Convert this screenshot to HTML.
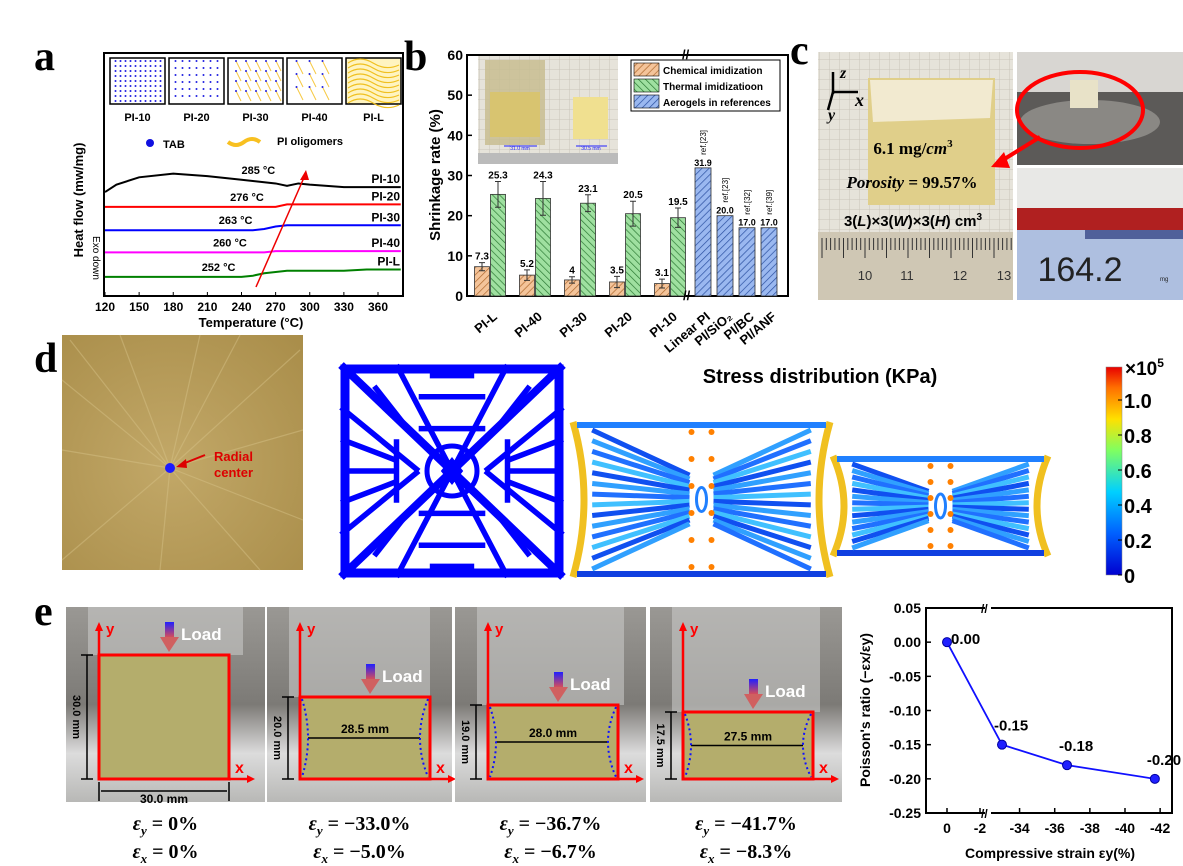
<!DOCTYPE html>
<html><head><meta charset="utf-8"><style>
html,body{margin:0;padding:0;background:#fff;}
svg{display:block;font-family:"Liberation Sans",sans-serif;}
.b{font-weight:bold}
</style></head><body>
<svg id="fig" width="1183" height="866" viewBox="0 0 1183 866" xmlns="http://www.w3.org/2000/svg">
<defs>
<pattern id="hOr" width="5" height="5" patternUnits="userSpaceOnUse" patternTransform="rotate(45)"><rect width="5" height="5" fill="#f4c49a"/><line x1="0" y1="0" x2="0" y2="5" stroke="#b06a30" stroke-width="1.4"/></pattern>
<pattern id="hGr" width="5" height="5" patternUnits="userSpaceOnUse" patternTransform="rotate(-45)"><rect width="5" height="5" fill="#9fe0a0"/><line x1="0" y1="0" x2="0" y2="5" stroke="#2d7a34" stroke-width="1.4"/></pattern>
<pattern id="hBl" width="5" height="5" patternUnits="userSpaceOnUse" patternTransform="rotate(45)"><rect width="5" height="5" fill="#9ab8f0"/><line x1="0" y1="0" x2="0" y2="5" stroke="#2a4fa0" stroke-width="1.4"/></pattern>
<pattern id="grid" width="10" height="10" patternUnits="userSpaceOnUse"><rect width="10" height="10" fill="#e6e3da"/><path d="M10 0V10H0" fill="none" stroke="#c9c5bb" stroke-width="1"/></pattern>
<linearGradient id="jet" x1="0" y1="1" x2="0" y2="0"><stop offset="0" stop-color="#0000d0"/><stop offset="0.2" stop-color="#0060ff"/><stop offset="0.4" stop-color="#00d0ff"/><stop offset="0.6" stop-color="#80ff60"/><stop offset="0.75" stop-color="#ffe000"/><stop offset="0.9" stop-color="#ff7000"/><stop offset="1" stop-color="#e80000"/></linearGradient>
<linearGradient id="loadG" x1="0" y1="0" x2="0" y2="1"><stop offset="0" stop-color="#2020ff"/><stop offset="1" stop-color="#e05050"/></linearGradient>
<linearGradient id="ebg" x1="0" y1="0" x2="0" y2="1"><stop offset="0" stop-color="#9a9894"/><stop offset="0.5" stop-color="#7c7a76"/><stop offset="0.75" stop-color="#dcdcdc"/><stop offset="1" stop-color="#b8b8b6"/></linearGradient>
<radialGradient id="dbg" cx="0.45" cy="0.55" r="0.8"><stop offset="0" stop-color="#c2a868"/><stop offset="1" stop-color="#a88c48"/></radialGradient>
</defs>

<!-- ===== Panel a ===== -->
<text x="34" y="70" font-family="Liberation Serif,serif" font-weight="bold" font-size="42">a</text>
<g id="panelA">
<rect x="104" y="53" width="299" height="243" fill="#fff" stroke="#000" stroke-width="2"/>
<g id="aInsets"></g>
<circle cx="150" cy="143" r="4" fill="#1010e0"/>
<text x="163" y="148" class="b" font-size="11">TAB</text>
<path d="M228 142 q8 6 16 0 t16 0" stroke="#f8c020" stroke-width="4" fill="none"/>
<text x="277" y="145" class="b" font-size="11">PI oligomers</text>
<g id="aCurves"></g>
<line x1="256" y1="287" x2="306" y2="173" stroke="#e00" stroke-width="1.5"/>
<polygon points="306,170 300,180 309,180" fill="#e00"/>
<g id="aTicks"></g>
<text x="251" y="327" text-anchor="middle" class="b" font-size="13">Temperature (°C)</text>
<text transform="translate(83,200) rotate(-90)" text-anchor="middle" class="b" font-size="13">Heat flow (mw/mg)</text>
<text transform="translate(93,258) rotate(90)" text-anchor="middle" font-size="10">Exo down</text>
</g>

<!-- ===== Panel b ===== -->
<text x="404" y="70" font-family="Liberation Serif,serif" font-weight="bold" font-size="42">b</text>
<g id="panelB">
<rect x="467" y="55" width="321" height="241" fill="#fff" stroke="#000" stroke-width="2"/>
<g>
<rect x="478" y="56" width="140" height="108" fill="url(#grid)"/>
<rect x="485" y="60" width="60" height="85" fill="#c8bd90" opacity="0.85"/>
<rect x="490" y="92" width="50" height="45" fill="#d8c470"/>
<rect x="573" y="97" width="35" height="42" fill="#f0e090"/>
<line x1="504" y1="146" x2="537" y2="146" stroke="#22f" stroke-width="1"/>
<text x="520" y="150" font-size="5" fill="#22f" text-anchor="middle">31.0 mm</text>
<line x1="576" y1="146" x2="607" y2="146" stroke="#22f" stroke-width="1"/>
<text x="591" y="150" font-size="5" fill="#22f" text-anchor="middle">30.5 mm</text>
<rect x="478" y="153" width="140" height="11" fill="#bbb"/>
</g>
<g>
<rect x="631" y="60" width="149" height="51" fill="#fff" stroke="#000" stroke-width="1"/>
<rect x="634" y="63" width="25" height="13" fill="url(#hOr)" stroke="#000" stroke-width="0.6"/>
<text x="663" y="74" class="b" font-size="10">Chemical imidization</text>
<rect x="634" y="79" width="25" height="13" fill="url(#hGr)" stroke="#000" stroke-width="0.6"/>
<text x="663" y="90" class="b" font-size="10">Thermal imidizatioon</text>
<rect x="634" y="95" width="25" height="13" fill="url(#hBl)" stroke="#000" stroke-width="0.6"/>
<text x="663" y="106" class="b" font-size="10">Aerogels in references</text>
</g>
<g id="bBars"></g>
<g id="bTicks"></g>
<text x="682" y="59" font-size="13" class="b">//</text>
<text x="683" y="300" font-size="13" class="b">//</text>
<text transform="translate(440,175) rotate(-90)" text-anchor="middle" class="b" font-size="15">Shrinkage rate (%)</text>
</g>

<!-- ===== Panel c ===== -->
<text x="790" y="64" font-family="Liberation Serif,serif" font-weight="bold" font-size="42">c</text>
<g>
<rect x="818" y="52" width="195" height="248" fill="url(#grid)"/>
<rect x="868" y="78" width="127" height="127" fill="#e0cf8a"/>
<polygon points="870,80 993,80 990,118 873,122" fill="#f2ead0"/>
<rect x="818" y="232" width="195" height="68" fill="#cfc7b4"/>
<g stroke="#333" stroke-width="1" id="ruler"></g>
<text x="865" y="280" font-size="13" fill="#333" text-anchor="middle">10</text>
<text x="907" y="280" font-size="13" fill="#333" text-anchor="middle">11</text>
<text x="960" y="280" font-size="13" fill="#333" text-anchor="middle">12</text>
<text x="1004" y="280" font-size="13" fill="#333" text-anchor="middle">13</text>
<text x="913" y="154" font-family="Liberation Serif,serif" font-weight="bold" font-size="17" text-anchor="middle">6.1 mg/<tspan font-style="italic">cm</tspan><tspan dy="-7" font-size="11">3</tspan></text>
<text x="912" y="188" font-family="Liberation Serif,serif" font-weight="bold" font-size="17" text-anchor="middle"><tspan font-style="italic">Porosity</tspan> = 99.57%</text>
<text x="913" y="226" class="b" font-size="15" text-anchor="middle">3(<tspan font-style="italic">L</tspan>)×3(<tspan font-style="italic">W</tspan>)×3(<tspan font-style="italic">H</tspan>) cm<tspan dy="-6" font-size="10">3</tspan></text>
<g stroke="#000" stroke-width="2.5">
<line x1="833" y1="94" x2="833" y2="72"/><line x1="833" y1="92" x2="858" y2="92"/><line x1="833" y1="92" x2="828" y2="110"/>
</g>
<text x="840" y="78" font-family="Liberation Serif,serif" font-style="italic" font-weight="bold" font-size="16">z</text>
<text x="855" y="106" font-family="Liberation Serif,serif" font-style="italic" font-weight="bold" font-size="18">x</text>
<text x="828" y="120" font-family="Liberation Serif,serif" font-style="italic" font-weight="bold" font-size="16">y</text>

<rect x="1017" y="52" width="166" height="113" fill="#5c5a58"/>
<rect x="1017" y="52" width="166" height="40" fill="#d8d6d2"/>
<ellipse cx="1090" cy="122" rx="70" ry="22" fill="#8a8884"/>
<rect x="1070" y="80" width="28" height="28" fill="#e8e2c8"/>
<ellipse cx="1080" cy="110" rx="63" ry="38" fill="none" stroke="#f00" stroke-width="4"/>
<line x1="1040" y1="137" x2="998" y2="163" stroke="#f00" stroke-width="4"/>
<polygon points="991,167 1004,152 1010,168" fill="#f00"/>
<rect x="1017" y="168" width="166" height="132" fill="#e8e8e6"/>
<rect x="1017" y="208" width="166" height="22" fill="#b02020"/>
<rect x="1017" y="230" width="166" height="70" fill="#aebfe0"/>
<rect x="1085" y="230" width="98" height="9" fill="#50609a"/>
<text x="1080" y="281" font-size="34" fill="#222" text-anchor="middle">164.2</text>
<text x="1160" y="281" font-size="6" fill="#222">mg</text>
</g>

<!-- ===== Panel d ===== -->
<text x="34" y="372" font-family="Liberation Serif,serif" font-weight="bold" font-size="42">d</text>
<g>
<rect x="62" y="335" width="241" height="235" fill="url(#dbg)"/>
<g id="radial" stroke="#d8c48a" stroke-width="1.2" opacity="0.45"></g>
<circle cx="170" cy="468" r="5" fill="#1a1aff"/>
<line x1="205" y1="455" x2="180" y2="465" stroke="#d00" stroke-width="2"/>
<polygon points="176,467 186,459 187,468" fill="#d00"/>
<text x="214" y="461" fill="#d00" class="b" font-size="13">Radial</text>
<text x="214" y="477" fill="#d00" class="b" font-size="13">center</text>

<g id="lattice"></g>
<g id="stress1"></g>
<g id="stress2"></g>
<text x="820" y="383" class="b" font-size="20" text-anchor="middle">Stress distribution (KPa)</text>
<rect x="1106" y="367" width="16" height="208" fill="url(#jet)" stroke="#888" stroke-width="0.5"/>
<g id="cbTicks"></g>
<text x="1125" y="375" class="b" font-size="19">×10<tspan dy="-8" font-size="12">5</tspan></text>
</g>

<!-- ===== Panel e ===== -->
<text x="34" y="625" font-family="Liberation Serif,serif" font-weight="bold" font-size="42">e</text>
<g id="ePhotos"></g>
<g id="eChart"></g>
</svg>

<script>
const NS="http://www.w3.org/2000/svg";
function mk(tag,attrs,parent,txt){const e=document.createElementNS(NS,tag);for(const k in attrs)e.setAttribute(k,attrs[k]);if(txt!==undefined)e.textContent=txt;parent.appendChild(e);return e;}
const G=id=>document.getElementById(id);

/* ---- Panel a data ---- */
const aTemps=[120,130,150,180,210,240,250,260,270,280,290,300,330,350,380];
const aPI10=[7.8,8.4,9.0,9.3,9.1,8.8,8.7,8.6,8.5,8.3,8.5,8.4,8.2,8.2,8.2];
const aPI20=[6.6,6.6,6.6,6.6,6.6,6.6,6.6,6.6,6.6,6.8,6.8,6.8,6.8,6.8,6.8];
const aPI30=[4.7,4.7,4.7,4.7,4.7,4.7,4.7,4.8,5.0,5.1,5.1,5.1,5.1,5.1,5.1];
const aPI40=[2.9,2.9,2.9,2.9,2.9,2.9,2.9,2.9,3.0,3.0,3.0,3.0,3.0,3.0,3.0];
const aPIL=[0.9,0.9,0.9,0.9,0.9,0.9,1.0,1.2,1.3,1.4,1.4,1.4,1.4,1.5,1.5];
const aNames=["PI-10","PI-20","PI-30","PI-40","PI-L"];
const aSeries=[aPI10,aPI20,aPI30,aPI40,aPIL];
const aColors=["#000","#f00","#00f","#f0f","#008000"];
const aTg=["285 °C","276 °C","263 °C","260 °C","252 °C"];
const aXTicks=[120,150,180,210,240,270,300,330,360];
const ax=t=>105+(t-120)*(273/240);
const ay=v=>288-v*12.3;
(function(){
 const g=G("aCurves");
 aSeries.forEach((s,i)=>{
  const p=mk("polyline",{points:s.map((v,j)=>ax(aTemps[j])+","+ay(v)).join(" "),fill:"none",stroke:aColors[i],"stroke-width":2},g);
  
  
  const l=mk("text",{x:400,y:ay(s[s.length-1])-4,"text-anchor":"end","font-size":12,"font-weight":"bold"},g,aNames[i]);
  
  
  const t=mk("text",{x:ax([240,230,220,215,205][i]),y:ay(s[5])-6,"text-anchor":"start","font-size":11,"font-weight":"bold"},g,aTg[i]);
  
  
 });
 const tk=G("aTicks");
 aXTicks.forEach(v=>{
  mk("line",{x1:ax(v),x2:ax(v),y1:296,y2:292,stroke:"#000"},tk);
  const t=mk("text",{x:ax(v),y:311,"text-anchor":"middle","font-size":12,"font-weight":"bold"},tk,String(v));
  
  
 });
 const ins=G("aInsets");
 const insX=[110,169,228,287,346];
 const spacing=[5,7,10,13,0];
 aNames.forEach((n,i)=>{
  const x=insX[i],y=58,w=55,h=46;
  const r=mk("rect",{x:x,y:y,width:w,height:h,fill:i==4?"#fff4c0":"#fff",stroke:"#000","stroke-width":1.5},ins);
  
  
  if(i<4){const sp=spacing[i];
   for(let yy=y+3;yy<y+h-sp/2;yy+=sp)for(let xx=x+3+((yy-y)/sp%2?sp/2:0);xx<x+w-sp/2;xx+=sp){
    if(i>=2)mk("line",{x1:xx,y1:yy,x2:xx+sp/2,y2:yy+sp,stroke:"#f6c840","stroke-width":1},ins);
    mk("circle",{cx:xx,cy:yy,r:1,fill:"#2020e0"},ins);}
  } else {for(let k=0;k<9;k++)mk("path",{d:`M${x+2} ${y+5+k*5} q12 -8 25 0 t26 2`,stroke:"#f0c020",fill:"none","stroke-width":1.2},ins);}
  const lt=mk("text",{x:x+w/2,y:121,"text-anchor":"middle","font-size":11,"font-weight":"bold"},ins,n);
  
  
 });
})();

/* ---- Panel b data ---- */
const bCats=["PI-L","PI-40","PI-30","PI-20","PI-10"];
const bChem=[7.3,5.2,4,3.5,3.1];
const bChemErr=[1.0,1.3,0.8,1.4,1.1];
const bTherm=[25.3,24.3,23.1,20.5,19.5];
const bThermErr=[3.2,4.2,2.1,3.1,2.4];
const bRefCats=["Linear PI","PI/SiO₂","PI/BC","PI/ANF"];
const bRefVals=[31.9,20.0,17.0,17.0];
const bRefTags=["ref.[23]","ref.[23]","ref.[32]","ref.[39]"];
const bYTicks=[0,10,20,30,40,50,60];
const by=v=>296-v*(241/60);
(function(){
 const g=G("bBars"),w=15;
 bCats.forEach((c,i)=>{
  const cx=490+i*45;
  [[bChem,bChemErr,"url(#hOr)",cx-8,"chem"],[bTherm,bThermErr,"url(#hGr)",cx+8,"therm"]].forEach(([vals,errs,fill,x,key])=>{
   const v=vals[i];
   const r=mk("rect",{x:x-w/2,y:by(v),width:w,height:296-by(v),fill:fill,stroke:"#333","stroke-width":0.8},g);
   
   
   const e=errs[i];
   mk("path",{d:`M${x} ${by(v+e)}V${by(v-e)}M${x-3} ${by(v+e)}H${x+3}M${x-3} ${by(v-e)}H${x+3}`,stroke:"#333","stroke-width":1,fill:"none"},g);
   const t=mk("text",{x:x,y:by(v+e)-3,"text-anchor":"middle","font-size":10,"font-weight":"bold"},g,String(v));
   
   
  });
  const tl=mk("text",{transform:`translate(${cx+8},318) rotate(-40)`,"text-anchor":"end","font-size":13,"font-weight":"bold"},g,c);
  
  
 });
 bRefCats.forEach((c,i)=>{
  const x=703+i*22,v=bRefVals[i];
  const r=mk("rect",{x:x-8,y:by(v),width:16,height:296-by(v),fill:"url(#hBl)",stroke:"#333","stroke-width":0.8},g);
  
  
  const t=mk("text",{x:x,y:by(v)-2,"text-anchor":"middle","font-size":9,"font-weight":"bold"},g,v.toFixed(1));
  
  
  const rt=mk("text",{transform:`translate(${x+3},${by(v)-13}) rotate(-90)`,"font-size":8},g,bRefTags[i]);
  
  
  const tl=mk("text",{transform:`translate(${x+8},318) rotate(-40)`,"text-anchor":"end","font-size":13,"font-weight":"bold"},g,c);
  
  
 });
 const tk=G("bTicks");
 bYTicks.forEach(v=>{
  mk("line",{x1:467,x2:472,y1:by(v),y2:by(v),stroke:"#000","stroke-width":1.5},tk);
  const t=mk("text",{x:463,y:by(v)+5,"text-anchor":"end","font-size":14,"font-weight":"bold"},tk,String(v));
  
  
 });
})();

(function(){
 const r=G("ruler");
 for(let x=822;x<1012;x+=4.3)mk("line",{x1:x,y1:238,x2:x,y2:(Math.round((x-822)/4.3)%5==0)?258:250},r);
 const rd=G("radial");
 [[70,340],[120,335],[200,335],[300,350],[303,430],[303,520],[260,570],[160,570],[62,560],[62,450],[62,380],[240,335]].forEach(([x,y])=>mk("line",{x1:170,y1:468,x2:x,y2:y},rd));
})();

(function(){
 const g=G("lattice"),x0=341,y0=365,W=222,H=212,cx=x0+W/2,cy=y0+H/2;
 mk("rect",{x:x0+4,y:y0+4,width:W-8,height:H-8,fill:"#fff",stroke:"#0000ff","stroke-width":9},g);
 const L=(a,b,c,d,w)=>mk("line",{x1:a,y1:b,x2:c,y2:d,stroke:"#0000ff","stroke-width":w||6},g);
 const seg=[[0,0,1,1],[1,0,0,1],[0.25,0,0.5,0.5],[0.75,0,0.5,0.5],[0.25,1,0.5,0.5],[0.75,1,0.5,0.5],
 [0,0.2,0.35,0.5],[1,0.2,0.65,0.5],[0,0.8,0.35,0.5],[1,0.8,0.65,0.5],[0,0.5,0.25,0.5],[1,0.5,0.75,0.5],
 [0,0.35,0.25,0.45],[1,0.35,0.75,0.45],[0,0.65,0.25,0.55],[1,0.65,0.75,0.55],
 [0.4,0.05,0.6,0.05],[0.4,0.95,0.6,0.95],[0.35,0.15,0.65,0.15],[0.35,0.85,0.65,0.85],[0.35,0.3,0.65,0.3],[0.35,0.7,0.65,0.7],
 [0.15,0.1,0.3,0.3],[0.85,0.1,0.7,0.3],[0.15,0.9,0.3,0.7],[0.85,0.9,0.7,0.7],[0.25,0.35,0.25,0.65],[0.75,0.35,0.75,0.65]];
 seg.forEach((s,i)=>L(x0+s[0]*W,y0+s[1]*H,x0+s[2]*W,y0+s[3]*H,i<2?8:5.5));
 mk("polygon",{points:`${cx},${cy-10} ${cx+8},${cy} ${cx},${cy+10} ${cx-8},${cy}`,fill:"none",stroke:"#00f","stroke-width":5},g);
 mk("circle",{cx:cx,cy:cy,r:25,fill:"none",stroke:"#00f","stroke-width":5},g);
})();
function stress(id,x0,y0,W,H,pinch){
 const g=G(id);
 const p=pinch;
 mk("path",{d:`M${x0} ${y0} H${x0+W} Q${x0+W-p} ${y0+H/2} ${x0+W} ${y0+H} H${x0} Q${x0+p} ${y0+H/2} ${x0} ${y0} Z`,fill:"#fff",stroke:"none"},g);
 mk("path",{d:`M${x0} ${y0} Q${x0+p} ${y0+H/2} ${x0} ${y0+H}`,fill:"none",stroke:"#f0c020","stroke-width":7},g);
 mk("path",{d:`M${x0+W} ${y0} Q${x0+W-p} ${y0+H/2} ${x0+W} ${y0+H}`,fill:"none",stroke:"#f0c020","stroke-width":7},g);
 mk("line",{x1:x0+4,y1:y0+3,x2:x0+W-4,y2:y0+3,stroke:"#2080ff","stroke-width":6},g);
 mk("line",{x1:x0+4,y1:y0+H-3,x2:x0+W-4,y2:y0+H-3,stroke:"#1040e0","stroke-width":6},g);
 const cx=x0+W/2,cy=y0+H/2;
 const cols=["#1050f0","#30a0ff","#2070ff","#40c0ff"];
 for(let k=0;k<14;k++){const yy=y0+8+k*(H-16)/13;
  mk("line",{x1:x0+p*0.6+6,y1:yy,x2:cx-12,y2:cy+(yy-cy)*0.35,stroke:cols[k%4],"stroke-width":5},g);
  mk("line",{x1:x0+W-p*0.6-6,y1:yy,x2:cx+12,y2:cy+(yy-cy)*0.35,stroke:cols[(k+1)%4],"stroke-width":5},g);}
 for(let k=0;k<6;k++){const yy=y0+10+k*(H-20)/5;
  mk("circle",{cx:cx-10,cy:yy,r:3,fill:"#ff8000"},g);mk("circle",{cx:cx+10,cy:yy,r:3,fill:"#ff8000"},g);}
 mk("ellipse",{cx:cx,cy:cy,rx:5,ry:12,fill:"#fff",stroke:"#2080ff","stroke-width":3},g);
}
stress("stress1",573,422,257,155,22);
stress("stress2",833,456,215,100,22);
(function(){
 const cbVals=[0,0.2,0.4,0.6,0.8,1.0];
 const g=G("cbTicks");
 cbVals.forEach(v=>{const y=575-v*175;
  mk("line",{x1:1118,x2:1122,y1:y,y2:y,stroke:"#000"},g);
  const t=mk("text",{x:1124,y:y+8,"font-size":20,"font-weight":"bold"},g,v===0?"0":v.toFixed(1));
  
  });
})();

/* ---- Panel e photos ---- */
const ePhotoX=[66,267,455,650];
const ePhotoW=[199,185,191,192];
const eHeights=["30.0 mm","20.0 mm","19.0 mm","17.5 mm"];
const eWidths=["30.0 mm","28.5 mm","28.0 mm","27.5 mm"];
const eEy=["0%","−33.0%","−36.7%","−41.7%"];
const eEx=["0%","−5.0%","−6.7%","−8.3%"];
const eTop=[655,697,705,712];
(function(){
 const g=G("ePhotos");
 ePhotoX.forEach((x,i)=>{
  const w=ePhotoW[i],y0=607,h=195;
  const bg=mk("rect",{x:x,y:y0,width:w,height:h,fill:"url(#ebg)"},g);
  
  
  mk("rect",{x:x+22,y:y0,width:w-44,height:eTop[i]-y0,fill:"#c8c8c6",opacity:0.6},g);
  const rx=x+33,rw=130,ry=eTop[i],rb=779;
  mk("rect",{x:rx,y:ry,width:rw,height:rb-ry,fill:"#b4ad6c"},g);
  mk("rect",{x:rx,y:ry,width:rw,height:rb-ry,fill:"none",stroke:"#f00","stroke-width":3},g);
  mk("line",{x1:rx,y1:rb,x2:rx,y2:y0+22,stroke:"#f00","stroke-width":2.5},g);
  mk("polygon",{points:`${rx-4},${y0+24} ${rx+4},${y0+24} ${rx},${y0+15}`,fill:"#f00"},g);
  mk("line",{x1:rx,y1:rb,x2:rx+rw+18,y2:rb,stroke:"#f00","stroke-width":2.5},g);
  mk("polygon",{points:`${rx+rw+18},${rb-4} ${rx+rw+18},${rb+4} ${rx+rw+26},${rb}`,fill:"#f00"},g);
  mk("text",{x:rx+7,y:y0+27,fill:"#f00","font-size":15,"font-weight":"bold"},g,"y");
  mk("text",{x:rx+rw+6,y:rb-6,fill:"#f00","font-size":16,"font-weight":"bold"},g,"x");
  const ax0=rx+70,ay1=ry-3;
  mk("rect",{x:ax0-4,y:ay1-30,width:9,height:16,fill:"url(#loadG)"},g);
  mk("polygon",{points:`${ax0-9},${ay1-15} ${ax0+10},${ay1-15} ${ax0},${ay1}`,fill:"#d06060"},g);
  const lt=mk("text",{x:ax0+12,y:ay1-12,fill:"#fff","font-size":17,"font-weight":"bold"},g,"Load");
  
  
  const hx=rx-12;
  mk("path",{d:`M${hx-6} ${ry}H${hx+6}M${hx-6} ${rb}H${hx+6}M${hx} ${ry}V${rb}`,stroke:"#000","stroke-width":1.5},g);
  const ht=mk("text",{transform:`translate(${hx-14},${(ry+rb)/2}) rotate(90)`,"text-anchor":"middle","font-size":11,"font-weight":"bold"},g,eHeights[i]);
  
  
  if(i===0){
   mk("path",{d:`M${rx} ${rb+3}V${rb+22}M${rx+rw} ${rb+3}V${rb+22}M${rx+2} ${rb+12}H${rx+rw-2}`,stroke:"#000","stroke-width":1.5},g);
   const wt=mk("text",{x:rx+rw/2,y:rb+24,"text-anchor":"middle","font-size":12,"font-weight":"bold"},g,eWidths[i]);
   
   
  } else {
   const my=(ry+rb)/2;
   mk("path",{d:`M${rx+8} ${my}H${rx+rw-10}`,stroke:"#000","stroke-width":1.5},g);
   mk("path",{d:`M${rx+2} ${ry+2} Q${rx+14} ${my} ${rx+2} ${rb-2}M${rx+rw-2} ${ry+2} Q${rx+rw-18} ${my} ${rx+rw-2} ${rb-2}`,stroke:"#1010ff","stroke-width":2,"stroke-dasharray":"2,3",fill:"none"},g);
   const wt=mk("text",{x:rx+rw/2,y:my-5,"text-anchor":"middle","font-size":12,"font-weight":"bold"},g,eWidths[i]);
   
   
  }
  const cx=x+w/2;
  const f1=mk("text",{x:cx,y:830,"text-anchor":"middle","font-family":"Liberation Serif,serif","font-weight":"bold","font-size":20},g);
  f1.innerHTML=`<tspan font-style="italic">ε</tspan><tspan font-style="italic" font-size="13" dy="5">y</tspan><tspan dy="-5"> = ${eEy[i]}</tspan>`;
  
  
  const f2=mk("text",{x:cx,y:858,"text-anchor":"middle","font-family":"Liberation Serif,serif","font-weight":"bold","font-size":20},g);
  f2.innerHTML=`<tspan font-style="italic">ε</tspan><tspan font-style="italic" font-size="13" dy="5">x</tspan><tspan dy="-5"> = ${eEx[i]}</tspan>`;
  
  
 });
})();

/* ---- Panel e chart ---- */
const pStrain=[0,-33.0,-36.7,-41.7];
const pRatio=[0.00,-0.15,-0.18,-0.20];
const pLabels=["0.00","-0.15","-0.18","-0.20"];
const pYTicks=[0.05,0.00,-0.05,-0.10,-0.15,-0.20,-0.25];
const pXTicks=[0,-2,-34,-36,-38,-40,-42];
function px(v){return v>-3? 947+(-v)*16.5 : 1002+(-v-33)*17.57;}
function py(v){return 608+(0.05-v)*(205/0.3);}
(function(){
 const g=G("eChart");
 const fr=mk("rect",{x:926,y:608,width:246,height:205,fill:"#fff",stroke:"#000","stroke-width":2},g);
 
 
 mk("rect",{x:985,y:600,width:6,height:16,fill:"#fff"},g);
 mk("rect",{x:985,y:805,width:6,height:16,fill:"#fff"},g);
 mk("text",{x:981,y:613,"font-size":12,"font-weight":"bold"},g,"//");
 mk("text",{x:981,y:818,"font-size":12,"font-weight":"bold"},g,"//");
 pYTicks.forEach(v=>{
  mk("line",{x1:926,x2:931,y1:py(v),y2:py(v),stroke:"#000","stroke-width":1.5},g);
  const t=mk("text",{x:921,y:py(v)+5,"text-anchor":"end","font-size":14,"font-weight":"bold"},g,v.toFixed(2));
  
  
 });
 pXTicks.forEach(v=>{
  mk("line",{x1:px(v),x2:px(v),y1:813,y2:808,stroke:"#000","stroke-width":1.5},g);
  const t=mk("text",{x:px(v),y:833,"text-anchor":"middle","font-size":14,"font-weight":"bold"},g,String(v));
  
  
 });
 const ln=mk("polyline",{points:pStrain.map((s,i)=>px(s)+","+py(pRatio[i])).join(" "),fill:"none",stroke:"#1010ff","stroke-width":1.8},g);
 
 
 pStrain.forEach((s,i)=>{
  const c=mk("circle",{cx:px(s),cy:py(pRatio[i]),r:4.5,fill:"#2020ff",stroke:"#0000a0","stroke-width":1},g);
  
  
  const dx=i===0?4:-8, dy=i===0?2:-14;
  const t=mk("text",{x:px(s)+dx,y:py(pRatio[i])+dy,"font-size":15,"font-weight":"bold"},g,pLabels[i]);
  
  
 });
 const xt=mk("text",{x:1050,y:858,"text-anchor":"middle","font-size":14,"font-weight":"bold"},g,"Compressive strain εy(%)");
 
 
 const yt=mk("text",{transform:"translate(870,710) rotate(-90)","text-anchor":"middle","font-size":14,"font-weight":"bold"},g,"Poisson's ratio (−εx/εy)");
 
 
})();
</script>
</body></html>
